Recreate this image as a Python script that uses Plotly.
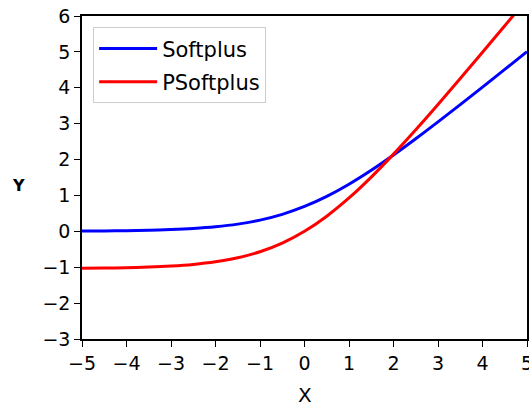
import plotly.graph_objects as go

x_vals = [-5, -4.5, -4, -3.5, -3, -2.5, -2, -1.5, -1, -0.5, 0, 0.5, 1, 1.5, 2, 2.5, 3, 3.5, 4, 4.5, 5]
softplus = [0.007, 0.011, 0.018, 0.030, 0.049, 0.079, 0.127, 0.201, 0.313, 0.474, 0.693,
            0.974, 1.313, 1.701, 2.127, 2.579, 3.049, 3.530, 4.018, 4.511, 5.007]
psoftplus = [-1.030, -1.023, -1.013, -0.995, -0.966, -0.921, -0.849, -0.738, -0.570, -0.329, 0.0,
             0.422, 0.930, 1.512, 2.151, 2.829, 3.534, 4.256, 4.988, 5.727, 6.470]
x_ticks = [-5, -4, -3, -2, -1, 0, 1, 2, 3, 4, 5]
y_ticks = [-3, -2, -1, 0, 1, 2, 3, 4, 5, 6]

FONT = "DejaVu Sans"

fig = go.Figure()
fig.add_trace(go.Scatter(x=x_vals, y=softplus, mode="lines", name="Softplus", legendgroup="a",
                         line=dict(color="#0000ff", width=3, shape="spline")))
fig.add_trace(go.Scatter(x=x_vals, y=psoftplus, mode="lines", name="PSoftplus", legendgroup="b",
                         line=dict(color="#ff0000", width=3, shape="spline")))

W, H = 529, 407
L, R, T, B = 82, 2, 16, 68
ph = H - T - B

fig.update_layout(
    width=W, height=H,
    margin=dict(l=L, r=R, t=T, b=B, autoexpand=False),
    paper_bgcolor="white", plot_bgcolor="white",
    font=dict(family=FONT, size=19, color="black"),
    showlegend=True,
    legend=dict(x=0.025, y=0.965, xanchor="left", yanchor="top",
                bgcolor="white", bordercolor="#cccccc", borderwidth=1,
                font=dict(family=FONT, size=21, color="black"),
                tracegroupgap=3, itemwidth=58),
    xaxis=dict(range=[-5, 5], tickvals=x_ticks, showgrid=False, zeroline=False,
               showline=True, linecolor="black", linewidth=1.5, mirror=True,
               ticks="outside", ticklen=6, tickwidth=1.2, tickcolor="black",
               ticklabeloverflow="allow", automargin=False,
               tickfont=dict(family=FONT, size=19, color="black")),
    yaxis=dict(range=[-3, 6], tickvals=y_ticks, showgrid=False, zeroline=False,
               showline=True, linecolor="black", linewidth=1.5, mirror=True,
               ticks="outside", ticklen=6, tickwidth=1.2, tickcolor="black",
               ticklabeloverflow="allow", automargin=False,
               tickfont=dict(family=FONT, size=19, color="black")),
)

fig.add_annotation(text="X", xref="paper", yref="paper", x=0.5, y=(339 - 395) / ph,
                   xanchor="center", yanchor="middle", showarrow=False,
                   font=dict(family=FONT, size=20, color="black"))
fig.add_annotation(text="<b>Y</b>", xref="paper", yref="paper", x=(18 - L) / (W - L - R),
                   y=(339 - 185) / ph, xanchor="center", yanchor="middle", showarrow=False,
                   font=dict(family=FONT, size=16, color="black"))

fig.write_html("out.html")
